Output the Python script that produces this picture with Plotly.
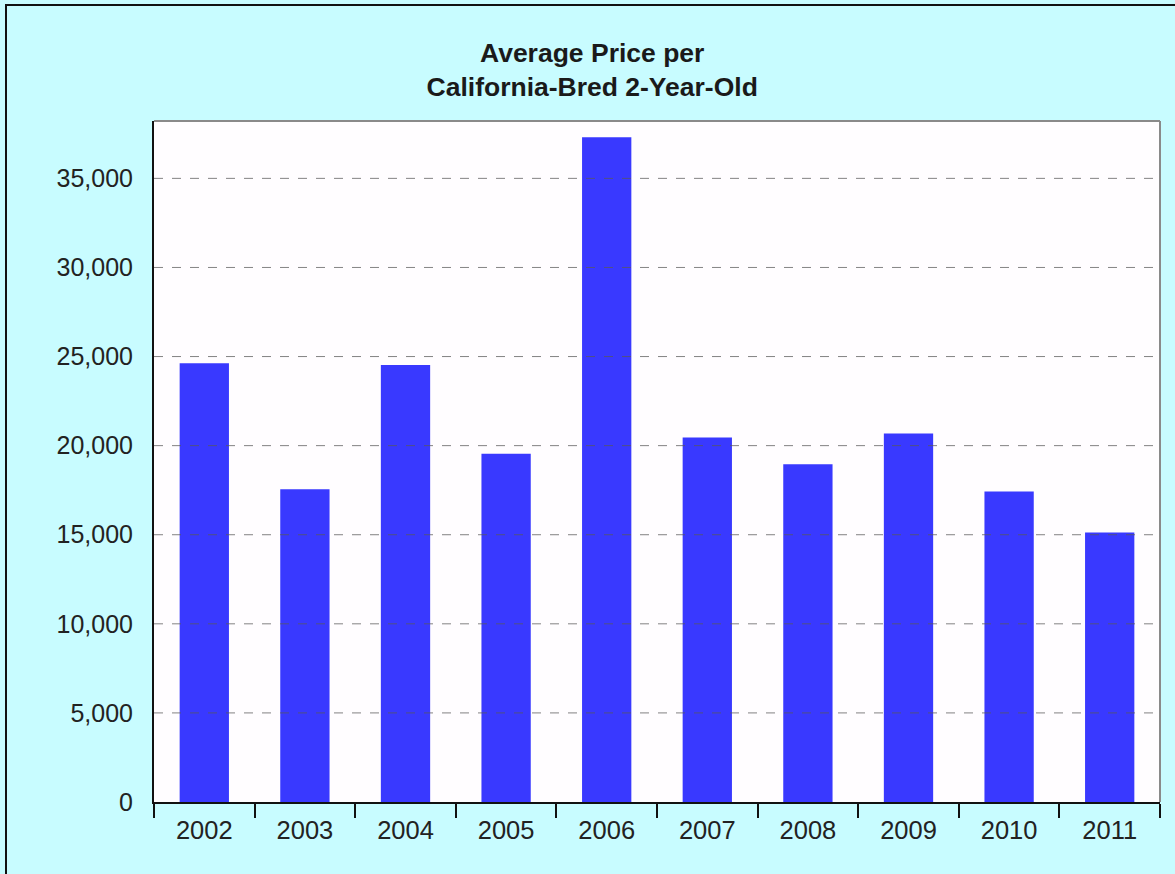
import plotly.graph_objects as go

years = ["2002", "2003", "2004", "2005", "2006", "2007", "2008", "2009", "2010", "2011"]
avg_price = [24630, 17550, 24530, 19550, 37310, 20450, 18950, 20680, 17420, 15120]
y_ticks = [0, 5000, 10000, 15000, 20000, 25000, 30000, 35000]
title_lines = ["Average Price per", "California-Bred 2-Year-Old"]

W, H = 1175, 874
L, R, T, B = 154, 15, 121, 72
pw, ph = W - L - R, H - T - B

def px_x(p):
    return (p - L) / pw

def px_y(p):
    return (H - B - p) / ph

fig = go.Figure()
fig.add_trace(go.Bar(
    x=years, y=avg_price,
    marker=dict(color="#3939FF", line=dict(width=0)),
    width=0.49,
    hoverinfo="x+y",
))

shapes = []
# dashed gridlines drawn above bars
for v in y_ticks[1:]:
    shapes.append(dict(type="line", xref="paper", yref="y", x0=0, x1=1, y0=v, y1=v,
                       line=dict(color="rgba(90,90,90,0.75)", width=1, dash="dash"),
                       layer="above"))
# top and right gray border of plot area
shapes.append(dict(type="line", xref="paper", yref="paper", x0=0, x1=1, y0=1, y1=1,
                   line=dict(color="#8a8a8a", width=2), layer="above"))
shapes.append(dict(type="line", xref="paper", yref="paper", x0=1, x1=1, y0=0, y1=1,
                   line=dict(color="#8a8a8a", width=2), layer="above"))
# outer black frame (top and left)
shapes.append(dict(type="line", xref="paper", yref="paper", x0=px_x(5), x1=px_x(1200),
                   y0=px_y(5), y1=px_y(5), line=dict(color="#111111", width=2)))
shapes.append(dict(type="line", xref="paper", yref="paper", x0=px_x(6), x1=px_x(6),
                   y0=px_y(4), y1=px_y(900), line=dict(color="#111111", width=2)))

fig.update_layout(
    width=W, height=H,
    margin=dict(l=L, r=R, t=T, b=B),
    paper_bgcolor="#C8FCFF",
    plot_bgcolor="#FFFDFF",
    font=dict(family="Liberation Sans, Arial, sans-serif", color="#222222"),
    title=dict(
        text="<b>" + "<br>".join(title_lines) + "</b>",
        x=0.504, xref="container", xanchor="center",
        y=1 - 61.5 / H, yref="container", yanchor="middle",
        font=dict(size=26.5, color="#1a1a1a", family="Liberation Sans, Arial, sans-serif"),
    ),
    showlegend=False,
    bargap=0.51,
    shapes=shapes,
    xaxis=dict(
        type="category",
        showline=True, linecolor="#111111", linewidth=2,
        ticks="outside", tickson="boundaries", ticklen=14, tickwidth=2, tickcolor="#111111",
        tickfont=dict(size=25.5, color="#222222"),
        ticklabelstandoff=4,
        showgrid=False,
        range=[-0.5, 9.5],
    ),
    yaxis=dict(
        range=[0, 38220],
        tickvals=y_ticks,
        tickformat=",",
        showline=True, linecolor="#111111", linewidth=2,
        ticks="", showgrid=False, zeroline=False,
        tickfont=dict(size=25, color="#222222"),
        ticklabelstandoff=14,
    ),
)

fig.write_html("out.html", config={"displayModeBar": False},
               post_script="document.body.style.margin='0';")
